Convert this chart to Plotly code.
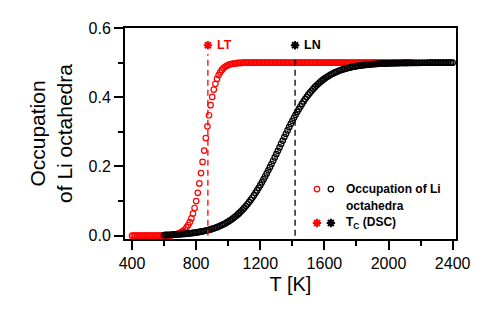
import plotly.graph_objects as go

# ---------------- data ----------------
red_T = [
    400, 410, 420, 430, 440, 450, 460, 470, 480, 490,
    500, 510, 520, 530, 540, 550, 560, 570, 580, 590,
    600, 610, 620, 630, 640, 650, 660, 670, 680, 690,
    700, 710, 720, 730, 740, 750, 760, 770, 780, 790,
    800, 810, 820, 830, 840, 850, 860, 870, 880, 890,
    900, 910, 920, 930, 940, 950, 960, 970, 980, 990,
    1000, 1010, 1020, 1030, 1040, 1050, 1060, 1070, 1080, 1090,
    1100, 1110, 1120, 1130, 1140, 1150, 1160, 1170, 1180, 1190,
    1200, 1210, 1220, 1230, 1240, 1250, 1260, 1270, 1280, 1290,
    1300, 1310, 1320, 1330, 1340, 1350, 1360, 1370, 1380, 1390,
    1400, 1410, 1420, 1430, 1440, 1450, 1460, 1470, 1480, 1490,
    1500, 1510, 1520, 1530, 1540, 1550, 1560, 1570, 1580, 1590,
    1600, 1610, 1620, 1630, 1640, 1650, 1660, 1670, 1680, 1690,
    1700, 1710, 1720, 1730, 1740, 1750, 1760, 1770, 1780, 1790,
    1800, 1810, 1820, 1830, 1840, 1850, 1860, 1870, 1880, 1890,
    1900, 1910, 1920, 1930, 1940, 1950, 1960, 1970, 1980, 1990,
    2000, 2010, 2020, 2030, 2040, 2050, 2060, 2070, 2080, 2090,
    2100, 2110, 2120, 2130, 2140,
]
red_occ = [
    0.0, 0.0, 0.0, 0.0, 0.0, 0.0, 0.0, 0.0, 0.0, 0.0,
    0.0, 0.0, 0.0, 0.0, 0.0, 0.0, 0.0, 0.0, 0.0, 0.0,
    0.0, 0.0, 0.0, 0.0, 0.0, 0.002, 0.003, 0.004, 0.005, 0.0065,
    0.0085, 0.011, 0.014, 0.018, 0.024, 0.031, 0.039, 0.050, 0.064, 0.080,
    0.100, 0.124, 0.151, 0.181, 0.213, 0.246, 0.282, 0.316, 0.348, 0.377,
    0.401, 0.422, 0.439, 0.453, 0.464, 0.472, 0.479, 0.484, 0.488, 0.491,
    0.493, 0.495, 0.496, 0.497, 0.498, 0.498, 0.499, 0.499, 0.499, 0.500,
    0.5, 0.5, 0.5, 0.5, 0.5, 0.5, 0.5, 0.5, 0.5, 0.5,
    0.5, 0.5, 0.5, 0.5, 0.5, 0.5, 0.5, 0.5, 0.5, 0.5,
    0.5, 0.5, 0.5, 0.5, 0.5, 0.5, 0.5, 0.5, 0.5, 0.5,
    0.5, 0.5, 0.5, 0.5, 0.5, 0.5, 0.5, 0.5, 0.5, 0.5,
    0.5, 0.5, 0.5, 0.5, 0.5, 0.5, 0.5, 0.5, 0.5, 0.5,
    0.5, 0.5, 0.5, 0.5, 0.5, 0.5, 0.5, 0.5, 0.5, 0.5,
    0.5, 0.5, 0.5, 0.5, 0.5, 0.5, 0.5, 0.5, 0.5, 0.5,
    0.5, 0.5, 0.5, 0.5, 0.5, 0.5, 0.5, 0.5, 0.5, 0.5,
    0.5, 0.5, 0.5, 0.5, 0.5, 0.5, 0.5, 0.5, 0.5, 0.5,
    0.5, 0.5, 0.5, 0.5, 0.5, 0.5, 0.5, 0.5, 0.5, 0.5,
    0.5, 0.5, 0.5, 0.5, 0.5,
]

black_T = [
    600, 610, 620, 630, 640, 650, 660, 670, 680, 690,
    700, 710, 720, 730, 740, 750, 760, 770, 780, 790,
    800, 810, 820, 830, 840, 850, 860, 870, 880, 890,
    900, 910, 920, 930, 940, 950, 960, 970, 980, 990,
    1000, 1010, 1020, 1030, 1040, 1050, 1060, 1070, 1080, 1090,
    1100, 1110, 1120, 1130, 1140, 1150, 1160, 1170, 1180, 1190,
    1200, 1210, 1220, 1230, 1240, 1250, 1260, 1270, 1280, 1290,
    1300, 1310, 1320, 1330, 1340, 1350, 1360, 1370, 1380, 1390,
    1400, 1410, 1420, 1430, 1440, 1450, 1460, 1470, 1480, 1490,
    1500, 1510, 1520, 1530, 1540, 1550, 1560, 1570, 1580, 1590,
    1600, 1610, 1620, 1630, 1640, 1650, 1660, 1670, 1680, 1690,
    1700, 1710, 1720, 1730, 1740, 1750, 1760, 1770, 1780, 1790,
    1800, 1810, 1820, 1830, 1840, 1850, 1860, 1870, 1880, 1890,
    1900, 1910, 1920, 1930, 1940, 1950, 1960, 1970, 1980, 1990,
    2000, 2010, 2020, 2030, 2040, 2050, 2060, 2070, 2080, 2090,
    2100, 2110, 2120, 2130, 2140, 2150, 2160, 2170, 2180, 2190,
    2200, 2210, 2220, 2230, 2240, 2250, 2260, 2270, 2280, 2290,
    2300, 2310, 2320, 2330, 2340, 2350, 2360, 2370, 2380, 2390,
    2400,
]
black_occ = [
    0.0020, 0.0022, 0.0024, 0.0026, 0.0028, 0.0030, 0.0032, 0.0035, 0.0038, 0.0041,
    0.0044, 0.0047, 0.0051, 0.0055, 0.0059, 0.0064, 0.0069, 0.0074, 0.0080, 0.0087,
    0.0093, 0.0101, 0.0109, 0.0117, 0.0126, 0.0136, 0.0147, 0.0158, 0.0170, 0.0183,
    0.0198, 0.0213, 0.0229, 0.0246, 0.0265, 0.0285, 0.0306, 0.0329, 0.0353, 0.0379,
    0.0407, 0.0437, 0.0469, 0.0502, 0.0538, 0.0576, 0.0616, 0.0659, 0.0704, 0.0752,
    0.0803, 0.0856, 0.0912, 0.0971, 0.1033, 0.1097, 0.1165, 0.1235, 0.1307, 0.1383,
    0.1461, 0.1542, 0.1625, 0.1710, 0.1798, 0.1888, 0.1979, 0.2071, 0.2165, 0.2260,
    0.2356, 0.2452, 0.2550, 0.2650, 0.2749, 0.2848, 0.2945, 0.3041, 0.3136, 0.3228,
    0.3319, 0.3407, 0.3492, 0.3575, 0.3655, 0.3732, 0.3806, 0.3878, 0.3946, 0.4011,
    0.4073, 0.4132, 0.4188, 0.4240, 0.4291, 0.4338, 0.4382, 0.4425, 0.4464, 0.4501,
    0.4536, 0.4569, 0.4599, 0.4628, 0.4654, 0.4679, 0.4702, 0.4724, 0.4744, 0.4763,
    0.4780, 0.4797, 0.4811, 0.4825, 0.4838, 0.4851, 0.4862, 0.4872, 0.4882, 0.4891,
    0.4899, 0.4906, 0.4914, 0.4920, 0.4926, 0.4932, 0.4937, 0.4942, 0.4946, 0.4950,
    0.4954, 0.4957, 0.4961, 0.4964, 0.4967, 0.4969, 0.4972, 0.4974, 0.4976, 0.4978,
    0.4979, 0.4981, 0.4982, 0.4984, 0.4985, 0.4986, 0.4987, 0.4988, 0.4989, 0.4990,
    0.4991, 0.4991, 0.4992, 0.4993, 0.4993, 0.4994, 0.4994, 0.4995, 0.4995, 0.4995,
    0.4996, 0.4996, 0.4996, 0.4996, 0.4996, 0.4997, 0.4997, 0.4997, 0.4997, 0.4997,
    0.4997, 0.4997, 0.4997, 0.4998, 0.4998, 0.4998, 0.4998, 0.4998, 0.4998, 0.4998,
    0.4998,
]

# DSC transition temperatures (LT = red, LN = black)
tc_labels = ["LT", "LN"]
tc_T = [873, 1417]
tc_y = [0.55, 0.55]
tc_line_top = [0.525, 0.52]
tc_colors = ["#ff0000", "#000000"]

x_tickvals = [400, 800, 1200, 1600, 2000, 2400]
x_ticktext = ["400", "800", "1200", "1600", "2000", "2400"]
y_tickvals = [0.0, 0.2, 0.4, 0.6]
y_ticktext = ["0.0", "0.2", "0.4", "0.6"]

legend_label_1 = "Occupation of Li"
legend_label_2 = "octahedra"
legend_label_3 = "T<sub>C</sub> (DSC)"

FONT = "Liberation Sans, Arial, Helvetica, sans-serif"

fig = go.Figure()

# series
fig.add_trace(go.Scatter(
    x=red_T, y=red_occ, mode="markers",
    marker=dict(symbol="circle-open", size=5.5, color="#ff0000",
                line=dict(width=1.2, color="#ff0000")),
    showlegend=False, cliponaxis=False))
fig.add_trace(go.Scatter(
    x=black_T, y=black_occ, mode="markers",
    marker=dict(symbol="circle-open", size=5.5, color="#000000",
                line=dict(width=1.2, color="#000000")),
    showlegend=False, cliponaxis=False))

# Tc dashed lines and markers
for t, ytop, c in zip(tc_T, tc_line_top, tc_colors):
    fig.add_trace(go.Scatter(
        x=[t, t], y=[0.0, ytop], mode="lines",
        line=dict(color=c, width=1.3, dash="6px,4px"),
        showlegend=False))
fig.add_trace(go.Scatter(
    x=tc_T, y=tc_y, mode="markers",
    marker=dict(symbol="asterisk-open", size=7, color=tc_colors,
                line=dict(width=2, color=tc_colors)),
    showlegend=False))
for t, yv, lab, c in zip(tc_T, tc_y, tc_labels, tc_colors):
    fig.add_annotation(x=t, y=yv, text="<b>%s</b>" % lab, showarrow=False,
                       xanchor="left", yanchor="middle", xshift=7,
                       font=dict(family=FONT, size=12.5, color=c))

# hand-made legend (two symbol columns) on a hidden overlay axis
leg_x = [0.58, 0.622, 0.58, 0.622]
leg_y = [0.2366, 0.2366, 0.0757, 0.0757]
leg_sym = ["circle-open", "circle-open", "asterisk-open", "asterisk-open"]
leg_col = ["#ff0000", "#000000", "#ff0000", "#000000"]
leg_size = [5.5, 5.5, 7, 7]
leg_lw = [1.2, 1.2, 2, 2]
for lx, ly, s, c, sz, lw in zip(leg_x, leg_y, leg_sym, leg_col, leg_size, leg_lw):
    fig.add_trace(go.Scatter(
        x=[lx], y=[ly], xaxis="x2", yaxis="y2", mode="markers",
        marker=dict(symbol=s, size=sz, color=c, line=dict(width=lw, color=c)),
        showlegend=False))
for txt, ly in zip([legend_label_1, legend_label_2, legend_label_3],
                   [0.2366, 0.156, 0.0757]):
    fig.add_annotation(xref="paper", yref="paper", x=0.6616, y=ly,
                       text="<b>%s</b>" % txt, showarrow=False,
                       xanchor="left", yanchor="middle",
                       font=dict(family=FONT, size=12, color="#000000"))

axis_common = dict(
    showline=True, linecolor="#000000", linewidth=2, mirror=True,
    ticks="outside", ticklen=9, tickwidth=1.5, tickcolor="#000000",
    showgrid=False, zeroline=False,
    tickfont=dict(family=FONT, size=16, color="#000000"),
)

# the page body adds an 8 px margin, so the figure is 8 px smaller and
# its left/top margins 8 px narrower than the target positions
fig.update_layout(
    width=490, height=308,
    margin=dict(l=117, r=42, t=20, b=77),
    paper_bgcolor="#ffffff", plot_bgcolor="#ffffff",
    showlegend=False,
    xaxis=dict(
        range=[356, 2421],
        tickvals=x_tickvals, ticktext=x_ticktext,
        minor=dict(dtick=200, tick0=400, ticks="outside", ticklen=5,
                   tickwidth=1.5, tickcolor="#000000", showgrid=False),
        title=dict(text="T [K]", font=dict(family=FONT, size=20, color="#000000"),
                   standoff=6),
        **axis_common),
    yaxis=dict(
        range=[-0.0095, 0.6],
        tickvals=y_tickvals, ticktext=y_ticktext,
        minor=dict(dtick=0.1, tick0=0, ticks="outside", ticklen=5,
                   tickwidth=1.5, tickcolor="#000000", showgrid=False),
        title=dict(text="Occupation<br>of Li octahedra",
                   font=dict(family=FONT, size=21, color="#000000"),
                   standoff=10),
        **axis_common),
    xaxis2=dict(overlaying="x", range=[0, 1], visible=False, fixedrange=True),
    yaxis2=dict(overlaying="y", range=[0, 1], visible=False, fixedrange=True),
)

fig.write_html("out.html")
